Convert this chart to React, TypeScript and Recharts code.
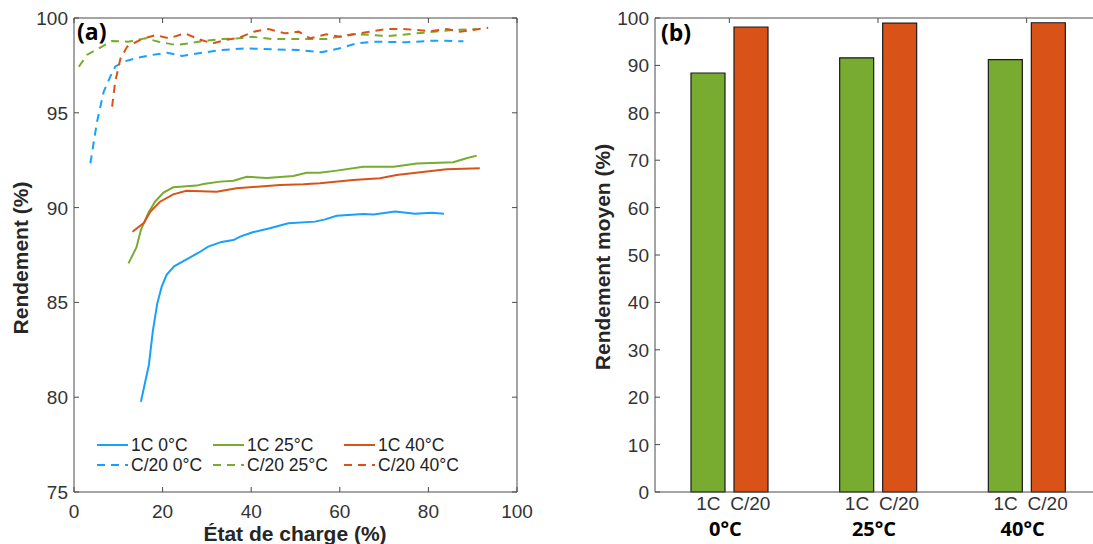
import { LineChart, Line, XAxis, YAxis, ReferenceLine, Legend, BarChart, Bar } from "recharts";

const BLUE = "#18a0ff";
const GREEN = "#77ac30";
const ORANGE = "#d95319";
const AX = "#4a4a4a";
const TXT = "#333333";
const FONT = "'Liberation Sans', Arial, sans-serif";
const BOLD_FONT = "'Open Sans', sans-serif";

// (a) état de charge (%) / rendement (%) for each curve
const soc1C0 = [15.1, 16.9, 17.8, 18.8, 19.8, 20.9, 22.6, 25.4, 28.1, 30.3, 33.3, 36.0, 37.5, 40.5, 44.2, 48.4, 54.4, 56.7, 59.3, 65.3, 67.6, 72.5, 77.0, 80.7, 83.5];
const eff1C0 = [79.76, 81.7, 83.5, 84.95, 85.83, 86.45, 86.9, 87.27, 87.62, 87.94, 88.19, 88.29, 88.47, 88.71, 88.91, 89.17, 89.26, 89.38, 89.57, 89.66, 89.64, 89.8, 89.68, 89.73, 89.68];

const soc1C25 = [12.3, 14.1, 15.1, 16.8, 18.3, 20.2, 22.4, 27.7, 29.2, 33.0, 36.0, 39.0, 43.5, 49.5, 52.5, 55.5, 59.3, 65.3, 72.1, 77.4, 85.6, 88.6, 90.9];
const eff1C25 = [87.06, 87.9, 88.82, 89.73, 90.31, 90.79, 91.07, 91.16, 91.24, 91.37, 91.42, 91.63, 91.56, 91.67, 91.84, 91.84, 91.95, 92.16, 92.16, 92.33, 92.39, 92.6, 92.74];

const soc1C40 = [13.2, 15.8, 17.2, 19.4, 22.4, 25.4, 32.2, 36.7, 46.5, 51.8, 55.5, 63.0, 69.1, 72.8, 84.1, 91.6];
const eff1C40 = [88.73, 89.2, 89.78, 90.31, 90.7, 90.89, 90.84, 91.02, 91.19, 91.23, 91.28, 91.46, 91.55, 91.72, 92.02, 92.07];

const socC20_0 = [3.7, 5.2, 6.7, 8.2, 9.3, 11.2, 14.6, 17.6, 21.0, 24.4, 28.9, 33.4, 38.7, 44.7, 50.7, 55.9, 60.0, 63.8, 67.6, 75.1, 80.4, 84.1, 87.9];
const effC20_0 = [92.34, 94.53, 96.11, 96.91, 97.43, 97.7, 97.91, 98.05, 98.17, 98.0, 98.17, 98.31, 98.4, 98.35, 98.31, 98.19, 98.4, 98.66, 98.75, 98.72, 98.8, 98.8, 98.77];

const socC20_25 = [1.1, 2.9, 5.6, 8.6, 12.3, 16.1, 19.1, 22.9, 25.9, 29.6, 33.4, 37.2, 40.2, 44.7, 48.5, 57.0, 63.0, 71.0, 77.4, 85.6, 90.9];
const effC20_25 = [97.43, 98.05, 98.4, 98.79, 98.75, 98.93, 98.75, 98.58, 98.66, 98.8, 98.89, 98.93, 99.01, 98.89, 98.89, 98.89, 99.16, 99.05, 99.19, 99.37, 99.42];

const socC20_40 = [8.6, 9.3, 10.5, 12.0, 15.3, 18.4, 21.4, 25.1, 28.1, 31.2, 34.2, 37.2, 40.6, 43.9, 47.7, 50.7, 53.3, 57.0, 60.0, 66.8, 70.6, 74.3, 80.4, 84.1, 87.1, 90.1, 93.5];
const effC20_40 = [95.32, 96.64, 97.87, 98.49, 98.89, 99.1, 98.93, 99.19, 98.89, 98.66, 98.84, 98.96, 99.28, 99.42, 99.19, 99.28, 98.93, 99.14, 99.01, 99.28, 99.42, 99.42, 99.31, 99.42, 99.28, 99.37, 99.49];

const xTicksA = [0, 20, 40, 60, 80, 100];
const yTicksA = [75, 80, 85, 90, 95, 100];

// (b) rendement moyen (%)
const temps = ["0°C", "25°C", "40°C"];
const moyen1C = [88.4, 91.6, 91.2];
const moyenC20 = [98.1, 98.9, 99.0];
const yTicksB = [0, 10, 20, 30, 40, 50, 60, 70, 80, 90, 100];

const zip = (xs: number[], ys: number[]) => xs.map((x, i) => ({ x, y: ys[i] }));

const series = [
  { name: "1C 0°C", color: BLUE, dashed: false, data: zip(soc1C0, eff1C0) },
  { name: "C/20 0°C", color: BLUE, dashed: true, data: zip(socC20_0, effC20_0) },
  { name: "1C 25°C", color: GREEN, dashed: false, data: zip(soc1C25, eff1C25) },
  { name: "C/20 25°C", color: GREEN, dashed: true, data: zip(socC20_25, effC20_25) },
  { name: "1C 40°C", color: ORANGE, dashed: false, data: zip(soc1C40, eff1C40) },
  { name: "C/20 40°C", color: ORANGE, dashed: true, data: zip(socC20_40, effC20_40) },
];

const barData = temps.map((t, i) => ({ temp: t, c1: moyen1C[i], c20: moyenC20[i] }));

const TOP = 18;
const BOTTOM = 492;
const A_LEFT = 74;
const A_RIGHT = 517;
const TICK_FS = 19;

const XTickA = (p: any) => (
  <g>
    <line x1={p.x} x2={p.x} y1={BOTTOM} y2={BOTTOM - 5} stroke={AX} />
    <line x1={p.x} x2={p.x} y1={TOP} y2={TOP + 5} stroke={AX} />
    <text x={p.x} y={518} textAnchor="middle" fontFamily={FONT} fontSize={TICK_FS} fill={TXT}>
      {p.payload.value}
    </text>
  </g>
);

const YTickA = (p: any) => (
  <g>
    <line x1={A_LEFT} x2={A_LEFT + 5} y1={p.y} y2={p.y} stroke={AX} />
    <line x1={A_RIGHT - 5} x2={A_RIGHT} y1={p.y} y2={p.y} stroke={AX} />
    <text x={68} y={p.y + 7} textAnchor="end" fontFamily={FONT} fontSize={TICK_FS} fill={TXT}>
      {p.payload.value}
    </text>
  </g>
);

// right chart is shifted by 560px
const B_LEFT = 95;

const XTickB = (p: any) => (
  <g>
    <line x1={p.x} x2={p.x} y1={TOP} y2={TOP + 5} stroke={AX} />
    <text x={p.x - 21} y={510} textAnchor="middle" fontFamily={FONT} fontSize={TICK_FS} fill={TXT}>
      1C
    </text>
    <text x={p.x + 21} y={510} textAnchor="middle" fontFamily={FONT} fontSize={TICK_FS} fill={TXT}>
      C/20
    </text>
    <text x={p.x - 4} y={536} textAnchor="middle" fontFamily={BOLD_FONT} fontWeight="bold" fontSize={20} fill="#000">
      {p.payload.value}
    </text>
  </g>
);

const YTickB = (p: any) => (
  <g>
    <line x1={B_LEFT} x2={B_LEFT + 5} y1={p.y} y2={p.y} stroke={AX} />
    <text x={89} y={p.y + 7} textAnchor="end" fontFamily={FONT} fontSize={TICK_FS} fill={TXT}>
      {p.payload.value}
    </text>
  </g>
);

const renderLegend = () => (
  <div
    style={{
      display: "grid",
      gridTemplateColumns: "116px 131px 130px",
      gridTemplateRows: "20px 20px",
      gridAutoFlow: "column",
      fontFamily: FONT,
      fontSize: 17.5,
      color: "#222",
    }}
  >
    {series.map((s) => (
      <div key={s.name} style={{ display: "flex", alignItems: "center", whiteSpace: "nowrap" }}>
        <svg width={34} height={20} style={{ display: "block" }}>
          <line
            x1={0}
            x2={31}
            y1={10}
            y2={10}
            stroke={s.color}
            strokeWidth={2}
            strokeDasharray={s.dashed ? "8 6" : undefined}
          />
        </svg>
        <span>{s.name}</span>
      </div>
    ))}
  </div>
);

export default function App() {
  return (
    <div
      style={{
        position: "absolute",
        left: 0,
        top: 0,
        width: 1093,
        height: 544,
        overflow: "hidden",
        background: "#fff",
      }}
    >
      <div style={{ position: "absolute", left: 0, top: 0 }}>
        <LineChart width={540} height={544} margin={{ top: TOP, right: 540 - A_RIGHT, bottom: 0, left: 0 }}>
          <XAxis
            type="number"
            dataKey="x"
            domain={[0, 100]}
            ticks={xTicksA}
            height={544 - BOTTOM}
            axisLine={{ stroke: AX }}
            tickLine={false}
            tick={XTickA}
          />
          <YAxis
            type="number"
            dataKey="y"
            domain={[75, 100]}
            ticks={yTicksA}
            width={A_LEFT}
            axisLine={{ stroke: AX }}
            tickLine={false}
            tick={YTickA}
          />
          <ReferenceLine y={100} stroke={AX} />
          <ReferenceLine x={100} stroke={AX} />
          {series.map((s) => (
            <Line
              key={s.name}
              data={s.data}
              dataKey="y"
              name={s.name}
              type="linear"
              stroke={s.color}
              strokeWidth={2}
              strokeDasharray={s.dashed ? "8 6" : undefined}
              dot={false}
              isAnimationActive={false}
            />
          ))}
          <Legend
            layout="horizontal"
            verticalAlign="middle"
            align="center"
            content={renderLegend}
            wrapperStyle={{ left: 97, top: 435, width: 400, height: 42 }}
          />
        </LineChart>
      </div>

      <div style={{ position: "absolute", left: 560, top: 0 }}>
        <BarChart
          width={560}
          height={544}
          data={barData}
          margin={{ top: TOP, right: 19, bottom: 0, left: 0 }}
          barGap={9}
          barSize={34}
        >
          <XAxis dataKey="temp" height={544 - BOTTOM} axisLine={{ stroke: AX }} tickLine={false} tick={XTickB} />
          <YAxis
            type="number"
            domain={[0, 100]}
            ticks={yTicksB}
            width={B_LEFT}
            axisLine={{ stroke: AX }}
            tickLine={false}
            tick={YTickB}
          />
          <ReferenceLine y={100} stroke={AX} />
          <Bar dataKey="c1" fill={GREEN} stroke="#1a1a1a" strokeWidth={1.2} isAnimationActive={false} />
          <Bar dataKey="c20" fill={ORANGE} stroke="#1a1a1a" strokeWidth={1.2} isAnimationActive={false} />
        </BarChart>
      </div>

      <svg width={1093} height={544} style={{ position: "absolute", left: 0, top: 0, pointerEvents: "none" }}>
        <text x={77} y={40} fontFamily={BOLD_FONT} fontWeight="bold" fontSize={23} fill="#000">
          (a)
        </text>
        <text x={661} y={41} fontFamily={BOLD_FONT} fontWeight="bold" fontSize={23} fill="#000">
          (b)
        </text>
        <text
          x={0}
          y={0}
          transform="translate(28 258) rotate(-90)"
          textAnchor="middle"
          fontFamily={FONT}
          fontWeight="bold"
          fontSize={21}
          fill="#262626"
        >
          Rendement (%)
        </text>
        <text x={295} y={541} textAnchor="middle" fontFamily={FONT} fontWeight="bold" fontSize={21} fill="#262626">
          État de charge (%)
        </text>
        <text
          x={0}
          y={0}
          transform="translate(610 257) rotate(-90)"
          textAnchor="middle"
          fontFamily={FONT}
          fontWeight="bold"
          fontSize={21}
          fill="#262626"
        >
          Rendement moyen (%)
        </text>
      </svg>
    </div>
  );
}
